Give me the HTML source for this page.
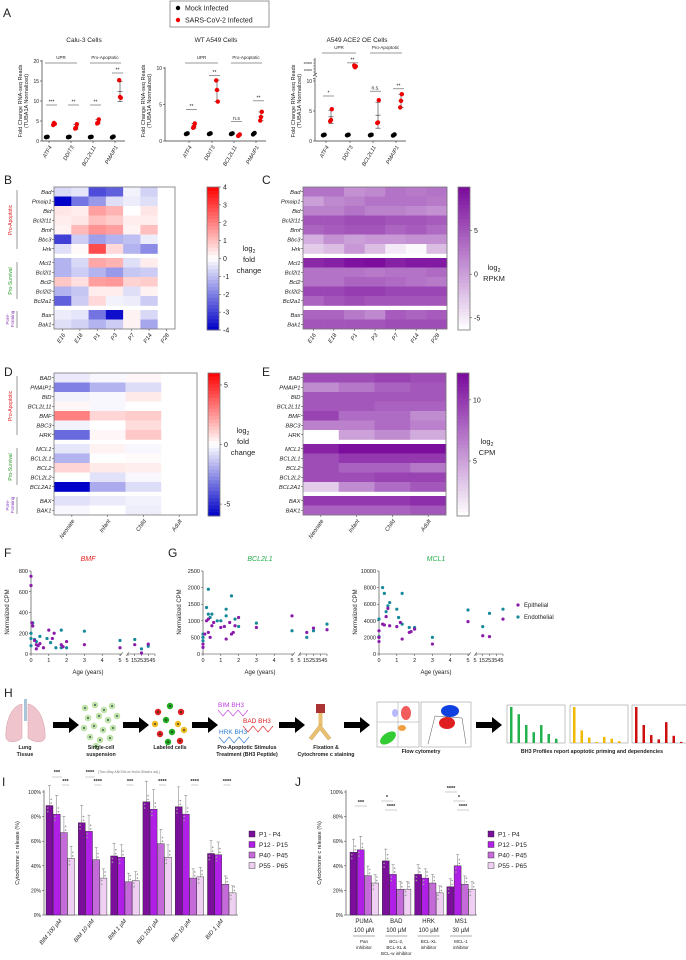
<!DOCTYPE html>
<html><head><meta charset="utf-8">
<style>
html,body{margin:0;padding:0;background:#fff;}
svg{display:block;font-family:"Liberation Sans",Arial,sans-serif;}
text{fill:#222;}
</style></head>
<body>
<svg id="fig" width="686" height="960" viewBox="0 0 686 960"></svg>
<script>
// ---------- DATA ----------
const aGenes=['ATF4','DDIT3','BCL2L11','PMAIP1'];
const mockVals=[[0.95,1.0,1.05],[0.95,1.0,1.05],[0.95,1.0,1.05],[0.9,1.0,1.1]];
const calu3Inf=[[4.0,4.5,4.3],[3.1,3.3,4.2],[4.4,4.6,5.4],[15.2,11.0,10.8]];
const wtInf=[[1.8,2.0,2.4],[8.3,7.0,5.4],[0.7,0.8,0.9],[2.8,3.3,4.0]];
const aceInf=[[3.3,3.5,5.3],[21000,19000,20000],[3.0,3.1,6.8],[5.6,6.7,7.8]];
const calu3Sig=['***','**','**','**'];
const calu3SigY=[9,9,9,17];
const wtSig=['**','**','n.s','**'];
const wtSigY=[4.3,9,2.7,5.5];
const aceSig=['*','**','n.s.','**'];
const aceSigY=[7.5,24000,8.3,8.7];
const calu3Ticks=[0,5,10,15,20];
const wtTicks=[0,5,10];
const aceTicks=[0,5,10];

const bRows=['Bad','Pmaip1','Bid','Bcl2l11','Bmf','Bbc3','Hrk','Mcl1','Bcl2l1','Bcl2','Bcl2l2','Bcl2a1','Bax','Bak1'];
const bCols=['E16','E18','P1','P3','P7','P14','P28'];
const bVals=[
[-0.6,-0.4,-2.8,-2.5,-0.2,-0.7,0],
[-4,-2.2,-1.6,-0.5,-0.3,-0.5,0],
[0.4,0.3,1.5,1.2,0,0.4,0],
[0.3,0.4,1.0,0.8,0.3,0.3,0],
[0.2,1.1,1.7,1.5,0.2,1.0,0],
[-3,-0.8,-1.5,-1.2,-1,-0.3,0],
[-0.5,0.1,2.8,0.6,-1.2,-1.8,0],
[-1.2,-0.6,1.4,1.2,-0.5,0.3,0],
[-1.2,-0.8,-1.2,-1.6,-0.9,-0.8,0],
[0.9,0.5,1.5,1.6,0.7,0.8,0],
[-1.2,-0.9,0.3,0.3,-0.5,0.2,0],
[-2.5,-0.8,0.6,-0.2,-0.3,-0.8,0],
[-0.3,-0.4,-2.2,-3.8,0.2,-0.6,0],
[-0.5,-0.7,-1.2,-0.8,0.2,-1.4,0]];
const cVals=[
[3,3,1,1.5,3,2.5,3],
[0,1.5,2,3,3,3,2.5],
[2,2,3,2,2,1.5,1],
[5,5,5.5,5.5,5,5,4.5],
[4,4.5,5,5,4,4.5,3.5],
[-1,1,0,0.5,0.5,1,1],
[-3,-2,0.5,-2,-5,-6,-2],
[8,8.5,9.5,9.8,8.5,9,9],
[3,3,3,2.5,3,3,3.5],
[3,3,4,4,3.5,3,2.5],
[6,6,6.5,6.5,6,6,6],
[4,5,5.5,5,5,5,5],
[4,4,2.5,1.5,4.5,4,4.5],
[5,5,5,5,5.5,5.5,5.5]];
const dRows=['BAD','PMAIP1','BID','BCL2L11','BMF','BBC3','HRK','MCL1','BCL2L1','BCL2','BCL2L2','BCL2A1','BAX','BAK1'];
const dCols=['Neonate','Infant','Child','Adult'];
const dVals=[
[-0.5,-0.2,0.2,0],[-3,-1.8,-0.8,0],[-0.3,-0.2,0.5,0],[0.2,-0.2,0,0],[3,1,1.2,0],[-0.3,0,0.8,0],[-3.5,0.2,1.3,0],
[-0.6,0.3,-0.2,0],[-1.8,0,0.1,0],[1,0.5,0.4,0],[0,-0.7,-0.2,0],[-6,-2,-0.8,0],[-0.7,-0.5,-0.3,0],[-0.2,0,-0.4,0]];
const eVals=[
[9,9,9.5,9],[6,7,8,8.5],[8.5,8.5,8.5,8.5],[8.5,8.5,8,8],[9.5,7.5,7.5,6],[6.5,6.5,7.5,6.5],[0.5,5,6,4.5],
[11,12,12,12],[9,10,10,10],[9,8,8,7],[9,9,9.5,9.5],[3,6,7.5,8.5],[10,10,10,10.5],[8,8,8,8.5]];

const bmfEpiAge=[0,0,0.05,0.1,0.2,0.3,0.3,0.4,0.5,0.7,1,1.2,1.3,1.7,1.8,2,3,5,15,25,35];
const bmfEpiVal=[750,660,300,270,130,90,50,80,100,60,230,150,200,90,70,120,90,60,90,10,95];
const bmfEndAge=[0,0,0,0.1,0.2,0.3,0.5,0.9,1.1,1.4,1.7,1.7,2,3,5,15,25,35];
const bmfEndVal=[200,150,80,300,140,120,170,150,110,60,230,60,60,220,130,140,50,75];
const bclEpiAge=[0,0,0.1,0.2,0.3,0.3,0.4,0.5,0.6,1,1.2,1.3,1.5,1.6,1.7,1.8,2,3,5,15,25,45];
const bclEpiVal=[200,300,600,1000,1050,650,500,850,950,800,830,450,950,600,650,850,1100,800,1150,650,780,730];
const bclEndAge=[0,0,0,0.2,0.3,0.3,0.4,0.5,0.8,1,1.3,1.3,1.6,1.8,2,3,5,15,25,45];
const bclEndVal=[400,500,600,1400,1950,1200,1100,1200,1000,1000,1350,1150,1750,1050,830,930,700,500,700,900];
const mclEpiAge=[0,0,0,0.2,0.3,0.4,0.5,0.6,1,1.2,1.3,1.7,1.8,2,3,5,15,25,45];
const mclEpiVal=[1500,2000,2800,3600,3500,4500,5500,3400,3300,3800,1800,2600,2700,3000,1200,3900,2200,2100,4200];
const mclEndAge=[0,0,0.2,0.3,0.4,0.5,0.6,1,1.1,1.3,1.3,1.7,2,3,5,15,25,45];
const mclEndVal=[2100,4200,8000,7300,5100,5800,6200,5400,4400,7300,3600,3200,3200,2000,5300,3300,4900,5400];

const iGroups=['BIM 100 µM','BIM 10 µM','BIM 1 µM','BID 100 µM','BID 10 µM','BID 1 µM'];
const iP1=[89,75,48,92,88,50];
const iP12=[82,68,47,86,82,49];
const iP40=[67,45,27,58,30,25];
const iP55=[46,30,28,47,31,18];
const iSig=['***','****','***','****','****','****'];
const jGroups=['PUMA','BAD','HRK','MS1'];
const jDose=['100 µM','100 µM','100 µM','30 µM'];
const jSub=[['Pan','inhibitor'],['BCL-2,','BCL-XL &','BCL-w inhibitor'],['BCL-XL','inhibitor'],['MCL-1','inhibitor']];
const jP1=[51,44,33,23];
const jP12=[53,33,30,40];
const jP40=[32,21,26,25];
const jP55=[26,21,18,21];
const pctTicks=[0,20,40,60,80,100];

// ---------- HELPERS ----------
const NS='http://www.w3.org/2000/svg';
const svg=document.getElementById('fig');
function el(tag,attrs,parent){const e=document.createElementNS(NS,tag);for(const k in attrs)e.setAttribute(k,attrs[k]);(parent||svg).appendChild(e);return e;}
function txt(x,y,s,attrs,parent){const e=el('text',Object.assign({x:x,y:y},attrs||{}),parent);e.textContent=s;return e;}
function grp(name){const g=el('g',{});return g;}
function lerp(a,b,t){return Math.round(a+(b-a)*t);}
function divColor(v,m){let t=Math.max(-1,Math.min(1,v/m));if(t>=0)return `rgb(255,${lerp(255,0,t)},${lerp(255,0,t)})`;t=-t;return `rgb(${lerp(255,0,t)},${lerp(255,0,t)},${lerp(255,200,t)})`;}
function purColor(v,lo,hi){let t=Math.max(0,Math.min(1,(v-lo)/(hi-lo)));return `rgb(${lerp(255,122,t)},${lerp(255,10,t)},${lerp(255,156,t)})`;}
function panelLabel(x,y,s){const t=txt(x,y,s,{'font-size':12});}

// ---------- PANEL A ----------
panelLabel(3,17,'A');
(function(){
 const g=grp('legend-a');
 el('rect',{x:170,y:1,width:99,height:26,fill:'#fff',stroke:'#555','stroke-width':0.6},g);
 el('circle',{cx:178,cy:8,r:2.2,fill:'#000'},g);
 txt(185,10.5,'Mock Infected',{'font-size':7},g);
 el('circle',{cx:178,cy:20,r:2.2,fill:'#e00'},g);
 txt(185,22.5,'SARS-CoV-2 Infected',{'font-size':7},g);
})();
function drawA(name,title,titleX,axX,ySc,ticks,cats,inf,sig,sigY,groupY,broken){
 const g=grp(name);
 txt(titleX,42,title,{'font-size':6.5,'text-anchor':'middle'},g);
 el('line',{x1:axX,y1:broken?58:ySc(ticks[ticks.length-1])-1,x2:axX,y2:141,stroke:'#333','stroke-width':0.7},g);
 el('line',{x1:axX,y1:141,x2:cats[3]+10,y2:141,stroke:'#333','stroke-width':0.7},g);
 ticks.forEach(t=>{const y=ySc(t);el('line',{x1:axX-2,y1:y,x2:axX,y2:y,stroke:'#333','stroke-width':0.6},g);txt(axX-3,y+2,String(t),{'font-size':5,'text-anchor':'end'},g);});
 if(broken){
  el('line',{x1:axX-2,y1:76,x2:axX+2,y2:73,stroke:'#333','stroke-width':0.6},g);
  el('line',{x1:axX-2,y1:79,x2:axX+2,y2:76,stroke:'#333','stroke-width':0.6},g);
  el('rect',{x:axX-0.5,y:76,width:1,height:2,fill:'#fff'},g);
  [60,63,66,69,72].forEach(y=>el('line',{x1:axX-2,y1:y,x2:axX,y2:y,stroke:'#333','stroke-width':0.4},g));
  txt(axX-3,64,'25000',{'font-size':3,'text-anchor':'end'},g);
  txt(axX-3,71,'10000',{'font-size':3,'text-anchor':'end'},g);
 }
 txt(0,0,'Fold Change RNA-seq Reads',{'font-size':5.5,'text-anchor':'middle',transform:`translate(${axX-20},101) rotate(-90)`},g);
 txt(0,0,'(TUBA1A Normalized)',{'font-size':5.5,'text-anchor':'middle',transform:`translate(${axX-14},101) rotate(-90)`},g);
 el('line',{x1:cats[0]-4,y1:groupY,x2:cats[1]+6,y2:groupY,stroke:'#777','stroke-width':0.8},g);
 txt((cats[0]+cats[1])/2+1,groupY-4,'UPR',{'font-size':4.5,'text-anchor':'middle'},g);
 el('line',{x1:cats[2]-3,y1:groupY,x2:cats[3]+6,y2:groupY,stroke:'#777','stroke-width':0.8},g);
 txt((cats[2]+cats[3])/2+1,groupY-4,'Pro-Apoptotic',{'font-size':4.5,'text-anchor':'middle'},g);
 cats.forEach((cx,i)=>{
  el('line',{x1:cx,y1:141,x2:cx,y2:143,stroke:'#333','stroke-width':0.6},g);
  txt(0,0,aGenes[i],{'font-size':5.5,'font-style':'italic','text-anchor':'end',transform:`translate(${cx+3},147) rotate(-60)`},g);
  mockVals[i].forEach((v,k)=>{const c=el('circle',{cx:cx-3+k*0.8,cy:ySc(v),r:2.2,fill:'#000'},g);});
  const vals=inf[i];const mean=vals.reduce((a,b)=>a+b)/vals.length;
  const sd=Math.sqrt(vals.reduce((a,b)=>a+(b-mean)*(b-mean),0)/(vals.length-1));
  const ix=cx+5;
  el('line',{x1:ix,y1:ySc(mean-sd),x2:ix,y2:ySc(mean+sd),stroke:'#333','stroke-width':0.6},g);
  [mean-sd,mean,mean+sd].forEach(v=>el('line',{x1:ix-2.5,y1:ySc(v),x2:ix+2.5,y2:ySc(v),stroke:'#333','stroke-width':0.6},g));
  vals.forEach((v,k)=>{const c=el('circle',{cx:ix-0.8+k*0.8,cy:ySc(v),r:2.2,fill:'#e00'},g);});
  const sy=ySc(sigY[i]);
  el('line',{x1:cx-3,y1:sy,x2:cx+8,y2:sy,stroke:'#555','stroke-width':0.6},g);
  txt(cx+2.5,sy-1.5,sig[i],{'font-size':5,'text-anchor':'middle'},g);
 });
}
drawA('chart-calu3','Calu-3 Cells',84,42,v=>141-v*4,calu3Ticks,[49,71,93,115],calu3Inf,calu3Sig,calu3SigY,63,false);
drawA('chart-wt-a549','WT A549 Cells',216,165,v=>141-v*7.3,wtTicks,[189,212,234,256],wtInf,wtSig,wtSigY,63,false);
drawA('chart-ace2-a549','A549 ACE2 OE Cells',357,315,v=>v<=10?141-v*6:75-(v-10000)/15000*13,aceTicks,[326,350,373,396],aceInf,aceSig,aceSigY,53,true);

// ---------- HEATMAPS ----------
const RH=9.5,GAP=4.5;
function rowY(top,i){return top+i*RH+(i>=7?GAP:0)+(i>=12?GAP:0);}
function heat(name,x0,x1,top,rows,cols,vals,colorFn){
 const g=grp(name);
 const cw=(x1-x0)/cols.length;
 el('rect',{x:x0,y:top,width:x1-x0,height:14*RH+2*GAP,fill:'#fff'},g);
 vals.forEach((r,i)=>r.forEach((v,j)=>{const c=el('rect',{x:x0+j*cw,y:rowY(top,i),width:cw+0.3,height:RH+0.3,fill:colorFn(v)},g);}));
 el('rect',{x:x0,y:top,width:x1-x0,height:14*RH+2*GAP,fill:'none',stroke:'#777','stroke-width':0.8},g);
 rows.forEach((r,i)=>{const y=rowY(top,i)+RH/2;el('line',{x1:x0-2,y1:y,x2:x0,y2:y,stroke:'#333','stroke-width':0.5},g);txt(x0-2.5,y+2,r,{'font-size':5.8,'font-style':'italic','text-anchor':'end'},g);});
 cols.forEach((c,j)=>{const x=x0+(j+0.5)*cw;el('line',{x1:x,y1:top+142,x2:x,y2:top+144,stroke:'#333','stroke-width':0.5},g);txt(0,0,c,{'font-size':5.8,'font-style':'italic','text-anchor':'end',transform:`translate(${x+3},${top+148}) rotate(-55)`},g);});
}
function groupLabels(top){
 const g=grp('gene-group-labels');
 el('line',{x1:17,y1:top+3,x2:17,y2:top+62,stroke:'#333','stroke-width':0.5},g);
 txt(0,0,'Pro-Apoptotic',{'font-size':5,'text-anchor':'middle',transform:`translate(12,${top+33}) rotate(-90)`},g).style.fill='#e02020';
 el('line',{x1:17,y1:top+75,x2:17,y2:top+112,stroke:'#333','stroke-width':0.5},g);
 txt(0,0,'Pro-Survival',{'font-size':5,'text-anchor':'middle',transform:`translate(12,${top+94}) rotate(-90)`},g).style.fill='#2a9a2a';
 el('line',{x1:17,y1:top+124,x2:17,y2:top+141,stroke:'#333','stroke-width':0.5},g);
 txt(0,0,'Pore-',{'font-size':4.5,'text-anchor':'middle',transform:`translate(9,${top+132}) rotate(-90)`},g).style.fill='#8a3ab9';
 txt(0,0,'Forming',{'font-size':4.5,'text-anchor':'middle',transform:`translate(14,${top+132}) rotate(-90)`},g).style.fill='#8a3ab9';
}
function colorbar(name,x,top,h,colorFn,lo,hi,ticks,labels,labelX,labelY){
 const g=grp(name);
 const n=40;
 for(let k=0;k<n;k++){const v=hi-(hi-lo)*(k+0.5)/n;el('rect',{x:x,y:top+k*h/n,width:12,height:h/n+0.4,fill:colorFn(v)},g);}
 el('rect',{x:x,y:top,width:12,height:h,fill:'none',stroke:'#777','stroke-width':0.8},g);
 ticks.forEach(t=>{const y=top+(hi-t)/(hi-lo)*h;el('line',{x1:x+12,y1:y,x2:x+14,y2:y,stroke:'#333','stroke-width':0.5},g);txt(x+16,y+2.5,String(t),{'font-size':7},g);});
 labels.forEach((s,k)=>{const t=txt(labelX,labelY+k*11,s,{'font-size':7.5,'text-anchor':'middle'},g);if(s==='log2'){t.textContent='log';const sub=el('tspan',{'font-size':5,dy:2},t);sub.textContent='2';}});
}
panelLabel(4,184,'B');
groupLabels(187);
heat('heatmap-b',54,175,187,bRows,bCols,bVals,v=>divColor(v,4));
colorbar('colorbar-b',207,187,143,v=>divColor(v,4),-4,4,[4,3,2,1,0,-1,-2,-3,-4],['log2','fold','change'],249,251);
panelLabel(262,184,'C');
heat('heatmap-c',303,447,187,bRows,bCols,cVals,v=>purColor(v,-6.4,10));
colorbar('colorbar-c',458,187,143,v=>purColor(v,-6.4,10),-6.4,10,[5,0,-5],['log2','RPKM'],494,270);

panelLabel(4,376,'D');
groupLabels(373);
heat('heatmap-d',54,197,373,dRows,dCols,dVals,v=>divColor(v,6));
colorbar('colorbar-d',208,373,143,v=>divColor(v,6),-6,6,[5,0,-5],['log2','fold','change'],243,433);
panelLabel(262,376,'E');
heat('heatmap-e',303,446,373,dRows,dCols,eVals,v=>purColor(v,0.5,12.2));
colorbar('colorbar-e',457,373,143,v=>purColor(v,0.5,12.2),0.5,12.2,[10,5],['log2','CPM'],487,444);

// ---------- PANELS F/G ----------
panelLabel(4,557,'F');
panelLabel(168,557,'G');
function scatter(name,title,titleColor,axX,maxV,ticks,epiA,epiV,endA,endV){
 const g=grp(name);
 const top=571,bot=654,x5=axX+89,xs=axX+97,xe=axX+124;
 const ys=v=>bot-v/maxV*(bot-top);
 const xsF=a=>a<=5?axX+a*(x5-axX)/5:xs+(a-5)/40*(xe-xs);
 txt((axX+xe)/2-5,561,title,{'font-size':7,'font-style':'italic','text-anchor':'middle'},g).style.fill=titleColor;
 el('line',{x1:axX,y1:top,x2:axX,y2:bot,stroke:'#333','stroke-width':0.6},g);
 el('line',{x1:axX,y1:bot,x2:x5+2,y2:bot,stroke:'#333','stroke-width':0.6},g);
 el('line',{x1:xs-1,y1:bot,x2:xe,y2:bot,stroke:'#333','stroke-width':0.6},g);
 el('line',{x1:x5,y1:bot+2,x2:x5+3,y2:bot-2,stroke:'#333','stroke-width':0.5},g);
 el('line',{x1:xs-2,y1:bot+2,x2:xs+1,y2:bot-2,stroke:'#333','stroke-width':0.5},g);
 ticks.forEach(t=>{const y=ys(t);el('line',{x1:axX-2,y1:y,x2:axX,y2:y,stroke:'#333','stroke-width':0.5},g);txt(axX-3,y+2,String(t),{'font-size':5.5,'text-anchor':'end'},g);});
 [0,1,2,3,4,5].forEach(a=>{const x=xsF(a);el('line',{x1:x,y1:bot,x2:x,y2:bot+2,stroke:'#333','stroke-width':0.5},g);txt(x,bot+8,String(a),{'font-size':5.5,'text-anchor':'middle'},g);});
 [5,15,25,35,45].forEach(a=>{const x=xsF(a+0.001);el('line',{x1:x,y1:bot,x2:x,y2:bot+2,stroke:'#333','stroke-width':0.5},g);});
 txt(xs-1,bot+8,'5',{'font-size':5.5,'text-anchor':'middle'},g);
 txt(xs+3,bot+8,'15253545',{'font-size':5.5},g);
 txt((axX+xe)/2-5,bot+20,'Age (years)',{'font-size':6,'text-anchor':'middle'},g);
 txt(0,0,'Normalized CPM',{'font-size':6,'text-anchor':'middle',transform:`translate(${axX-22},612) rotate(-90)`},g);
 endA.forEach((a,k)=>{const c=el('circle',{cx:xsF(a),cy:ys(endV[k]),r:1.6,fill:'#16899a'},g);});
 epiA.forEach((a,k)=>{const c=el('circle',{cx:xsF(a),cy:ys(epiV[k]),r:1.6,fill:'#8a1aaa'},g);});
}
scatter('scatter-bmf','BMF','#e82020',31,800,[0,200,400,600,800],bmfEpiAge,bmfEpiVal,bmfEndAge,bmfEndVal);
scatter('scatter-bcl2l1','BCL2L1','#22b14c',203,2500,[0,500,1000,1500,2000,2500],bclEpiAge,bclEpiVal,bclEndAge,bclEndVal);
scatter('scatter-mcl1','MCL1','#22b14c',379,10000,[0,2000,4000,6000,8000,10000],mclEpiAge,mclEpiVal,mclEndAge,mclEndVal);
(function(){const g=grp('legend-fg');
 el('circle',{cx:518,cy:605,r:1.6,fill:'#8a1aaa'},g);txt(524,607,'Epithelial',{'font-size':6},g);
 el('circle',{cx:518,cy:617,r:1.6,fill:'#16899a'},g);txt(524,619,'Endothelial',{'font-size':6},g);})();

// ---------- PANEL H ----------
panelLabel(4,697,'H');
(function(){
 const g=grp('workflow-schematic');
 el('path',{d:'M22 704 C10 706 5 725 6 738 C8 744 18 742 22 738 Z',fill:'#efc4cc',stroke:'#d39aa6','stroke-width':0.5},g);
 el('path',{d:'M28 704 C40 706 46 725 45 738 C43 744 33 742 28 738 Z',fill:'#efc4cc',stroke:'#d39aa6','stroke-width':0.5},g);
 el('rect',{x:24,y:699,width:3,height:22,fill:'#aac4d8'},g);
 function arrow(x){const a=el('path',{d:`M${x} 722 h16 v-5 l10 8 l-10 8 v-5 h-16 z`,fill:'#000'},g);}
 [53,123,192,279,344,476].forEach(arrow);
 [[85,708],[95,705],[104,710],[112,706],[88,718],[99,716],[108,720],[117,716],[84,728],[94,726],[103,730],[113,728],[90,737],[100,740],[110,738],[96,746]].forEach(p=>{el('circle',{cx:p[0],cy:p[1],r:3.3,fill:'#bfe3a8'},g);el('circle',{cx:p[0],cy:p[1],r:0.9,fill:'#234'},g);});
 [[158,712,'#d22'],[170,706,'#2a2'],[181,712,'#d22'],[155,724,'#eb2'],[166,720,'#2a2'],[178,724,'#eb2'],[160,734,'#d22'],[172,732,'#2a2'],[184,730,'#eb2'],[168,742,'#2a2'],[180,741,'#d22']].forEach(p=>{el('circle',{cx:p[0],cy:p[1],r:3.2,fill:p[2]},g);el('circle',{cx:p[0],cy:p[1],r:0.9,fill:'#222'},g);});
 txt(218,707,'BIM BH3',{'font-size':6.5},g).style.fill='#c040e0';
 el('polyline',{points:'218,710 223,716 228,710 233,716 238,710 243,716 248,710',fill:'none',stroke:'#c040e0','stroke-width':0.6},g);
 txt(243,723,'BAD BH3',{'font-size':6.5},g).style.fill='#e02020';
 el('polyline',{points:'243,726 248,732 253,726 258,732 263,726 268,732 273,726',fill:'none',stroke:'#e02020','stroke-width':0.6},g);
 txt(219,734,'HRK BH3',{'font-size':6.5},g).style.fill='#2a7ad0';
 el('polyline',{points:'219,737 224,743 229,737 234,743 239,737 244,743 249,737',fill:'none',stroke:'#2a7ad0','stroke-width':0.6},g);
 el('rect',{x:316,y:704,width:9,height:9,fill:'#a33'},g);
 el('rect',{x:318.5,y:713,width:4,height:13,fill:'#e8c070'},g);
 el('path',{d:'M320 724 L309 738 L312 740 L320 730 L328 740 L331 738 Z',fill:'#e8c070',stroke:'#b08030','stroke-width':0.3},g);
 el('rect',{x:377,y:702,width:42,height:45,fill:'#fff',stroke:'#888','stroke-width':0.5},g);
 el('line',{x1:377,y1:722,x2:419,y2:722,stroke:'#888','stroke-width':0.4},g);
 el('line',{x1:398,y1:702,x2:398,y2:747,stroke:'#888','stroke-width':0.4},g);
 el('ellipse',{cx:388,cy:738,rx:9,ry:5,fill:'#33cc33',transform:'rotate(-35 388 738)'},g);
 el('ellipse',{cx:406,cy:713,rx:5,ry:7,fill:'#e33',opacity:0.8},g);
 el('ellipse',{cx:395,cy:713,rx:3,ry:4,fill:'#88f',opacity:0.6},g);
 el('ellipse',{cx:402,cy:728,rx:4,ry:3,fill:'#f0a040'},g);
 el('rect',{x:421,y:702,width:50,height:45,fill:'#fff',stroke:'#888','stroke-width':0.5},g);
 el('ellipse',{cx:450,cy:711,rx:9,ry:6,fill:'#1040e0'},g);
 el('ellipse',{cx:447,cy:723,rx:8,ry:6,fill:'#e02020'},g);
 el('polyline',{points:'428,744 435,716 462,718 466,744',fill:'none',stroke:'#555','stroke-width':0.5},g);
 function mini(x,color,vals){el('rect',{x:x,y:705,width:58,height:38,fill:'#fff',stroke:'#888','stroke-width':0.5},g);vals.forEach((v,k)=>{const b=el('rect',{x:x+3+k*7.5,y:743-v*36,width:2.5,height:v*36,fill:color},g);});}
 mini(507,'#22b14c',[1,0.8,0.5,0.3,0.5,0.25,0.12]);
 mini(570,'#f0b800',[1,0.35,0.15,0.03,0.17,0.12,0.05]);
 mini(632,'#cc1010',[1,0.5,0.22,0.1,0.58,0.2,0.03]);
 const L=(x,y,s)=>txt(x,y,s,{'font-size':5.3,'font-weight':'bold','text-anchor':'middle'},g);
 L(25,749,'Lung');L(25,756,'Tissue');
 L(101,749,'Single-cell');L(101,756,'suspension');
 L(170,749,'Labeled cells');
 L(247,749,'Pro-Apoptotic Stimulus');L(247,756,'Treatment (BH3 Peptide)');
 L(326,749,'Fixation &');L(326,756,'Cytochrome c staining');
 L(421,753,'Flow cytometry');
 L(592,753,'BH3 Profiles report apoptotic priming and dependencies');
})();

// ---------- PANELS I / J ----------
const barColors=['#7b0f9c','#b01fe6','#c46ad9','#efd0f3'];
const legendLabels=['P1 - P4','P12 - P15','P40 - P45','P55 - P65'];
function barChart(name,axX,starts,series,lastX){
 const g=grp(name);
 const ys=v=>915-v*1.23;
 el('line',{x1:axX,y1:790,x2:axX,y2:915,stroke:'#333','stroke-width':0.6},g);
 el('line',{x1:axX,y1:915,x2:lastX,y2:915,stroke:'#333','stroke-width':0.6},g);
 pctTicks.forEach(t=>{const y=ys(t);el('line',{x1:axX-2,y1:y,x2:axX,y2:y,stroke:'#333','stroke-width':0.5},g);txt(axX-3,y+2,t+'%',{'font-size':5,'text-anchor':'end'},g);});
 txt(0,0,'Cytochrome c release (%)',{'font-size':5.5,'text-anchor':'middle',transform:`translate(${axX-25},853) rotate(-90)`},g);
 starts.forEach((sx,gi)=>{
  series.forEach((arr,j)=>{
   const v=arr[gi];const x=sx+j*7.2;
   const b=el('rect',{x:x,y:ys(v),width:7,height:915-ys(v),fill:barColors[j],stroke:'#222','stroke-width':0.4},g);
   
   
   const e=v*0.15+3;
   el('line',{x1:x+3.5,y1:ys(v+e),x2:x+3.5,y2:ys(v),stroke:'#555','stroke-width':0.4},g);
   el('line',{x1:x+2,y1:ys(v+e),x2:x+5,y2:ys(v+e),stroke:'#555','stroke-width':0.4},g);
   for(let k=0;k<4;k++){el('circle',{cx:x+1.8+(k%2)*3.4,cy:ys(v+((k*7)%11)-5),r:0.8,fill:'#999'},g);}
  });
 });
 return g;
}
panelLabel(2,786,'I');
(function(){
 const starts=iGroups.map((_,i)=>46+i*32.3);
 const g=barChart('bar-chart-i',44,starts,[iP1,iP12,iP40,iP55],238);
 starts.forEach((sx,i)=>{
  txt(0,0,iGroups[i],{'font-size':5.8,'font-style':'italic','text-anchor':'end',transform:`translate(${sx+16},921) rotate(-50)`},g);
  el('line',{x1:sx+16,y1:785,x2:sx+23,y2:785,stroke:'#999','stroke-width':0.5},g);
  txt(sx+19.5,783,iSig[i],{'font-size':5.5,'font-weight':'bold','text-anchor':'middle'},g);
 });
 txt(57,774,'***',{'font-size':5.5,'font-weight':'bold','text-anchor':'middle'},g);
 txt(90,774,'****',{'font-size':5.5,'font-weight':'bold','text-anchor':'middle'},g);
 txt(98,773,'(Two-Way ANOVA w/ Holm-Sidak\'s adj.)',{'font-size':3.5},g).style.fill='#777';
 el('line',{x1:52,y1:777,x2:62,y2:777,stroke:'#999','stroke-width':0.5},g);
 el('line',{x1:85,y1:777,x2:95,y2:777,stroke:'#999','stroke-width':0.5},g);
})();
panelLabel(295,786,'J');
(function(){
 const starts=jGroups.map((_,i)=>350+i*32.3);
 const g=barChart('bar-chart-j',346,starts,[jP1,jP12,jP40,jP55],477);
 starts.forEach((sx,i)=>{
  const cx=sx+14;
  txt(cx,923,jGroups[i],{'font-size':6,'text-anchor':'middle'},g);
  txt(cx,932,jDose[i],{'font-size':6,'text-anchor':'middle'},g);
  el('line',{x1:cx-11,y1:936,x2:cx+11,y2:936,stroke:'#555','stroke-width':0.5},g);
  jSub[i].forEach((s,k)=>txt(cx,943+k*6,s,{'font-size':4.5,'text-anchor':'middle'},g));
 });
 const sig=[[361,804,'***'],[387,799,'*'],[391,808,'****'],[451,790,'****'],[459,799,'*'],[463,808,'****']];
 sig.forEach(s=>{txt(s[0],s[1],s[2],{'font-size':5.5,'font-weight':'bold','text-anchor':'middle'},g);el('line',{x1:s[0]-6,y1:s[1]+2,x2:s[0]+6,y2:s[1]+2,stroke:'#999','stroke-width':0.5},g);});
})();
function legendBars(name,x){
 const g=grp(name);
 legendLabels.forEach((s,k)=>{const y=831+k*10.5;const r=el('rect',{x:x,y:y,width:6,height:6,fill:barColors[k],stroke:'#222','stroke-width':0.4},g);txt(x+10,y+5.5,s,{'font-size':6.5},g);});
}
legendBars('legend-i',249);
legendBars('legend-j',488);
</script>
</body></html>
